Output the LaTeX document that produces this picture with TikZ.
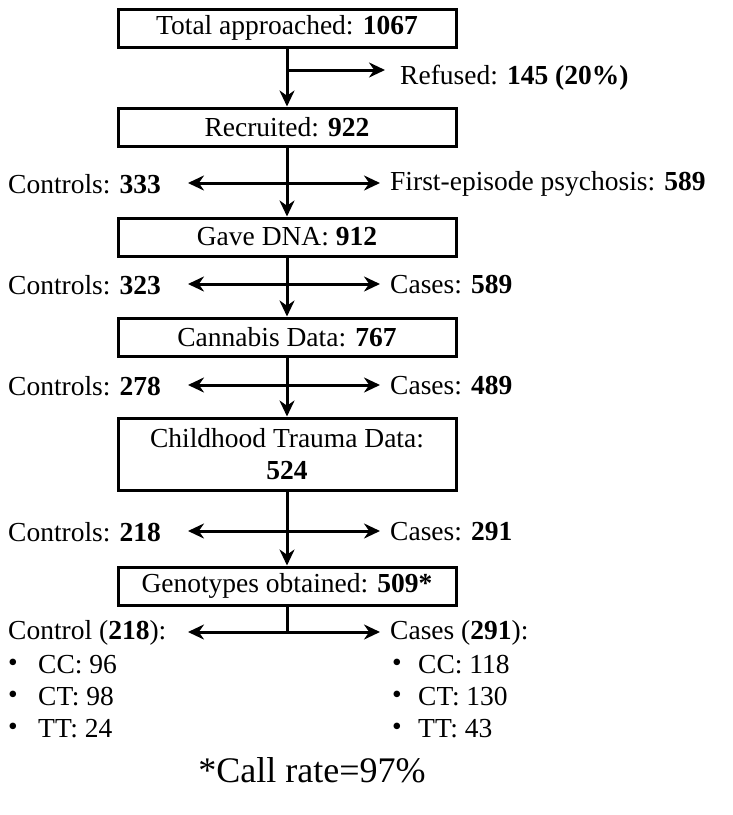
\documentclass[tikz,border=0pt]{standalone}
\usepackage{fontspec}
\setmainfont{Liberation Serif}
\usetikzlibrary{arrows.meta}
\begin{document}
\begin{tikzpicture}[x=1pt,y=-1pt,
  box/.style={draw,line width=3pt,minimum width=338pt,minimum height=38pt,align=center,inner sep=2pt,font=\fontsize{27.5}{32}\selectfont},
  txt/.style={font=\fontsize{27.5}{32}\selectfont,inner sep=0pt},
  arr/.style={line width=3pt,-{Stealth[length=16pt,width=15pt]}},
  darr/.style={line width=3pt,{Stealth[length=16pt,width=15pt]}-{Stealth[length=16pt,width=15pt]}}]
\useasboundingbox (0,0) rectangle (732,815);
\fill[white] (0,0) rectangle (732,815);
\node[box] (b1) at (287,28) {Total approached: \textbf{1067}};
\node[box] (b2) at (287,127) {Recruited: \textbf{922}};
\node[box] (b3) at (287,237) {Gave DNA: \textbf{912}};
\node[box] (b4) at (287,337) {Cannabis Data: \textbf{767}};
\node[box,minimum height=72pt] (b5) at (287,454) {Childhood Trauma Data:\\\textbf{524}};
\node[box] (b6) at (287,586) {Genotypes obtained: \textbf{509*}};
\node[txt,anchor=west] (ref) at (400,78) {Refused: \textbf{145 (20\%)}};
\coordinate (j1) at (287,70);
\coordinate (r1) at (385,70);
\draw[arr] (b1.south) -- (b2.north);
\draw[arr] (j1) -- (r1);
\node[txt,anchor=west] (l1) at (8,184) {Controls: \textbf{333}};
\node[txt,anchor=west] (rr1) at (390,184) {First-episode psychosis: \textbf{589}};
\node[txt,anchor=west] (l2) at (8,285) {Controls: \textbf{323}};
\node[txt,anchor=west] (rr2) at (390,285) {Cases: \textbf{589}};
\node[txt,anchor=west] (l3) at (8,386) {Controls: \textbf{278}};
\node[txt,anchor=west] (rr3) at (390,386) {Cases: \textbf{489}};
\node[txt,anchor=west] (l4) at (8,532) {Controls: \textbf{218}};
\node[txt,anchor=west] (rr4) at (390,532) {Cases: \textbf{291}};
\foreach \y/\n in {183/a,284/b,385/c,531/d,632/e}{
  \coordinate (L\n) at (188,\y);
  \coordinate (R\n) at (380,\y);
  \draw[darr] (L\n) -- (R\n);
}
\draw[arr] (b2.south) -- (b3.north);
\draw[arr] (b3.south) -- (b4.north);
\draw[arr] (b4.south) -- (b5.north);
\draw[arr] (b5.south) -- (b6.north);
\draw[line width=3pt] (b6.south) -- (287,632);
\node[txt,anchor=west] (gc) at (8,633) {Control (\textbf{218}):};
\node[txt,anchor=west] (gk) at (390,633) {Cases (\textbf{291}):};
\foreach \y/\a/\b/\k in {665/CC: 96/CC: 118/1,697/CT: 98/CT: 130/2,729/TT: 24/TT: 43/3}{
  \node[txt,anchor=west] (bl\k) at (8,\y) {•};
  \node[txt,anchor=west] (tl\k) at (38,\y) {\a};
  \node[txt,anchor=west] (br\k) at (392,\y) {•};
  \node[txt,anchor=west] (tr\k) at (418,\y) {\b};
}
\node[txt,font=\fontsize{36}{40}\selectfont] (cr) at (312,770) {*Call rate=97\%};
\end{tikzpicture}
\end{document}
